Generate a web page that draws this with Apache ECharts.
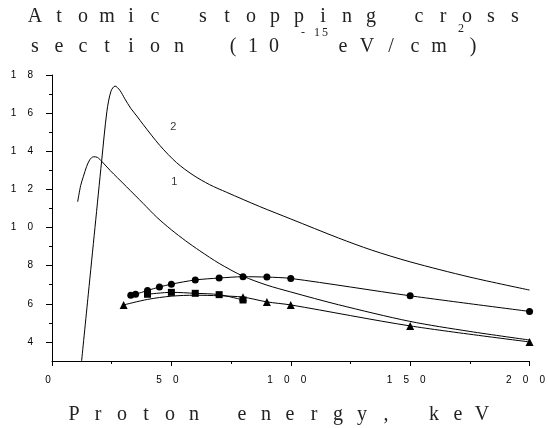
<!DOCTYPE html>
<html>
<head>
<meta charset="utf-8">
<script src="https://cdn.jsdelivr.net/npm/echarts@6/dist/echarts.min.js"></script>
<style>
    html, body { margin: 0; padding: 0; background: #fff; }
    #chart { width: 548px; height: 428px; }
</style>
</head>
<body>
<div id="chart"></div>
<script>
// theory curves, proton energy (keV) vs cross section (1e-15 eV cm2)
const curve1X = [10.75, 12.0, 13.1, 14.5, 15.8, 17.3, 19.0, 21.0, 24.3, 27.5, 31.2, 38.2, 43.8, 50, 56, 61.9, 70, 80, 90, 100, 120, 149.8, 175, 200];
const curve1Y = [11.35, 12.2, 12.66, 13.2, 13.55, 13.71, 13.68, 13.45, 13.0, 12.6, 12.14, 11.26, 10.55, 9.88, 9.3, 8.78, 8.12, 7.45, 6.98, 6.62, 5.95, 5.08, 4.55, 4.1];
const curve2X = [12.4, 15.2, 18.0, 20.8, 23.0, 24.7, 26.4, 28.4, 30.5, 33, 35.5, 38.2, 45.2, 52.2, 59.1, 66, 73.1, 87, 100, 120, 133.8, 150, 175, 200];
const curve2Y = [3.0, 6.5, 10.0, 13.5, 16.1, 17.15, 17.42, 17.2, 16.75, 16.25, 15.85, 15.4, 14.3, 13.4, 12.75, 12.25, 11.85, 11.1, 10.45, 9.45, 8.82, 8.2, 7.4, 6.72];

// experimental points
const circleX = [33, 35, 40, 45, 50, 60, 70, 80, 90, 100, 150, 200];
const circleY = [6.45, 6.5, 6.7, 6.88, 7.03, 7.25, 7.35, 7.42, 7.4, 7.33, 6.42, 5.6];
const squareX = [40, 50, 60, 70, 80];
const squareY = [6.5, 6.6, 6.55, 6.48, 6.2];
const triangleX = [30, 40, 50, 60, 70, 80, 90, 100, 150, 200];
const triangleY = [5.94, 6.23, 6.4, 6.45, 6.42, 6.35, 6.1, 5.94, 4.84, 4.0];
const triangleMarked = [true, false, false, false, false, true, true, true, true, true];

// curve numbers
const curveLabelText = ['1', '2'];
const curveLabelX = [51.2, 50.8];
const curveLabelY = [12.4, 15.27];

// ticks
const yLabelValues = [4, 6, 8, 10, 12, 14, 16, 18];
const yMinorValues = [5, 7, 9, 11, 13, 15, 17];

const zip = (xs, ys) => xs.map((x, i) => [x, ys[i]]);
const spaced = v => String(v).split('').join('    ');

// title pieces: text, centre of first char, middle y, font size, pitch
const titlePieces = [
    ['Atomic stopping cross'.split('').join(' '), 35, 16.5, 20, 12],
    ['section'.split('').join(' '), 35, 46.5, 20, 12],
    ['(', 233, 46.5, 20, 12],
    ['10'.split('').join(' '), 253, 46.5, 20, 10.5],
    ['-', 303, 32.5, 12, 7],
    ['15', 317, 32.5, 12, 8],
    ['eV/cm'.split('').join(' '), 343, 46.5, 20, 12],
    ['2', 461, 29, 12, 7],
    [')', 473, 46.5, 20, 12],
    ['Proton energy, keV'.split('').join(' '), 74, 414.5, 20, 12]
];

function charGraphics() {
    const out = [];
    titlePieces.forEach(p => {
        p[0].split('').forEach((ch, i) => {
            if (ch === ' ') return;
            out.push({
                type: 'text',
                x: p[1] + i * p[4],
                y: p[2],
                silent: true,
                style: {
                    text: ch,
                    fill: '#222',
                    font: p[3] + 'px "Liberation Serif", serif',
                    textAlign: 'center',
                    textVerticalAlign: 'middle'
                }
            });
        });
    });
    return out;
}

const chart = echarts.init(document.getElementById('chart'));

const lineBase = {
    type: 'line',
    smooth: 0.3,
    lineStyle: { color: '#000', width: 1 },
    itemStyle: { color: '#000' },
    silent: true
};

const option = {
    animation: false,
    backgroundColor: '#fff',
    grid: { left: 52, right: 18, top: 75, bottom: 67 },
    xAxis: {
        type: 'value',
        min: 0,
        max: 200,
        interval: 50,
        axisLine: { lineStyle: { color: '#000', width: 1 } },
        axisTick: { length: 5, lineStyle: { color: '#000' } },
        minorTick: { show: true, splitNumber: 2, length: 3, lineStyle: { color: '#000' } },
        splitLine: { show: false },
        axisLabel: {
            color: '#000',
            fontFamily: 'Liberation Sans',
            fontSize: 10,
            margin: 14,
            padding: [0, 8, 0, 0],
            formatter: spaced
        }
    },
    yAxis: [
        {
            type: 'value',
            min: 3,
            max: 18,
            position: 'left',
            axisLine: { show: true, lineStyle: { color: '#000', width: 1 } },
            axisTick: { show: true, length: 6, customValues: yLabelValues, lineStyle: { color: '#000' } },
            splitLine: { show: false },
            axisLabel: {
                color: '#000',
                fontFamily: 'Liberation Sans',
                fontSize: 10,
                margin: 19,
                customValues: yLabelValues,
                formatter: spaced
            }
        },
        {
            type: 'value',
            min: 3,
            max: 18,
            position: 'left',
            offset: 0,
            axisLine: { show: false },
            axisTick: { show: true, length: 3, customValues: yMinorValues, lineStyle: { color: '#000' } },
            splitLine: { show: false },
            axisLabel: { show: false }
        }
    ],
    graphic: charGraphics(),
    series: [
        Object.assign({}, lineBase, { name: 'curve 1', showSymbol: false, data: zip(curve1X, curve1Y) }),
        Object.assign({}, lineBase, { name: 'curve 2', showSymbol: false, data: zip(curve2X, curve2Y) }),
        Object.assign({}, lineBase, {
            name: 'circles', symbol: 'circle', symbolSize: 7,
            data: zip(circleX, circleY)
        }),
        Object.assign({}, lineBase, {
            name: 'squares', symbol: 'rect', symbolSize: 7,
            data: zip(squareX, squareY)
        }),
        Object.assign({}, lineBase, {
            name: 'triangles', symbol: 'triangle', symbolSize: 8,
            data: triangleX.map((x, i) => triangleMarked[i]
                ? { value: [x, triangleY[i]] }
                : { value: [x, triangleY[i]], symbol: 'none' })
        }),
        {
            name: 'curve labels',
            type: 'scatter',
            symbolSize: 0,
            silent: true,
            data: curveLabelText.map((t, i) => ({ name: t, value: [curveLabelX[i], curveLabelY[i]] })),
            label: {
                show: true,
                position: 'inside',
                formatter: '{b}',
                color: '#000',
                fontFamily: 'Liberation Sans',
                fontSize: 11
            }
        }
    ]
};

chart.setOption(option);
</script>
</body>
</html>
